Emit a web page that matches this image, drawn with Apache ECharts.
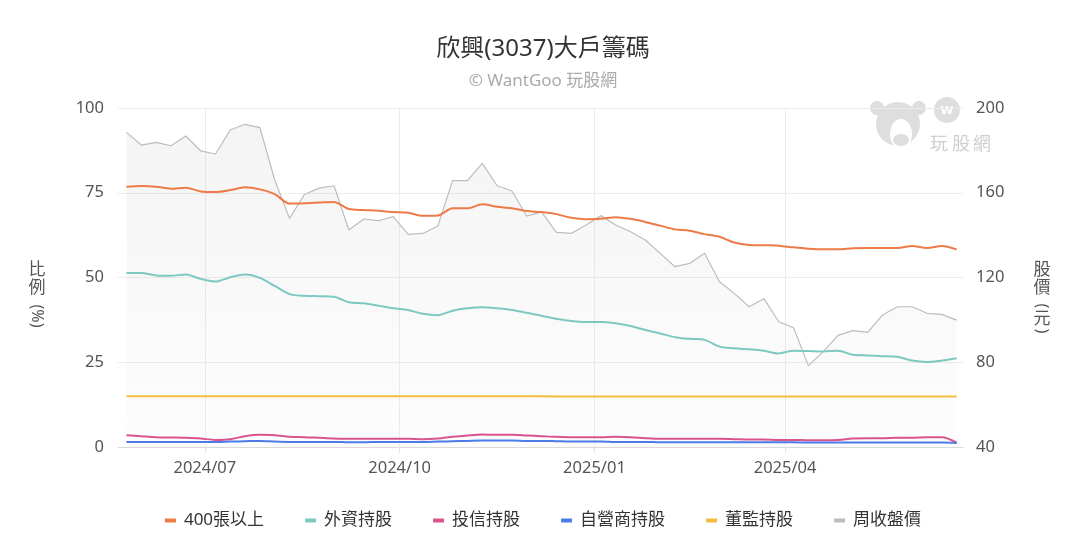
<!DOCTYPE html>
<html><head><meta charset="utf-8">
<script src="https://cdn.jsdelivr.net/npm/echarts@6/dist/echarts.min.js"></script>
<style>html,body{margin:0;padding:0;background:#fff}#c{width:1086px;height:540px}</style>
</head><body><div id="c"></div>
<script>
const dates = [
 '2024-05-25','2024-06-01','2024-06-08','2024-06-15','2024-06-22','2024-06-29','2024-07-06','2024-07-13','2024-07-20','2024-07-27',
 '2024-08-03','2024-08-10','2024-08-17','2024-08-24','2024-08-31','2024-09-07','2024-09-14','2024-09-21','2024-09-28','2024-10-05',
 '2024-10-12','2024-10-19','2024-10-26','2024-11-02','2024-11-09','2024-11-16','2024-11-23','2024-11-30','2024-12-07','2024-12-14',
 '2024-12-21','2024-12-28','2025-01-04','2025-01-11','2025-01-18','2025-01-25','2025-02-01','2025-02-08','2025-02-15','2025-02-22',
 '2025-03-01','2025-03-08','2025-03-15','2025-03-22','2025-03-29','2025-04-05','2025-04-12','2025-04-19','2025-04-26','2025-05-03',
 '2025-05-10','2025-05-17','2025-05-24','2025-05-31','2025-06-07','2025-06-14','2025-06-21'
];
const xTicks = ['2024-07-01','2024-10-01','2025-01-01','2025-04-01'];
const xRange = ['2024-05-21','2025-06-24'];
const leftTicks = [0, 25, 50, 75, 100];
const rightTicks = [40, 80, 120, 160, 200];

const big400 = [76.8,77.0,76.8,76.2,76.5,75.4,75.2,75.8,76.6,76.0,74.6,71.8,71.9,72.1,72.3,70.2,69.9,69.7,69.3,
 69.1,68.2,68.3,70.4,70.4,71.6,70.9,70.4,69.6,69.3,68.7,67.6,67.2,67.3,67.8,67.3,66.4,65.3,64.2,
 63.8,62.8,62.0,60.3,59.6,59.5,59.4,58.9,58.5,58.3,58.3,58.6,58.7,58.7,58.7,59.3,58.7,59.3,58.3];
const foreign = [51.3,51.3,50.6,50.5,50.9,49.6,48.8,50.1,50.9,49.9,47.5,45.1,44.6,44.5,44.3,42.7,42.4,41.7,40.9,
 40.4,39.3,38.9,40.2,40.9,41.2,40.9,40.4,39.6,38.7,37.8,37.2,36.9,36.9,36.5,35.7,34.5,33.5,32.4,
 31.9,31.6,29.6,29.1,28.8,28.4,27.6,28.4,28.3,28.2,28.4,27.2,27.0,26.8,26.6,25.5,25.1,25.5,26.2];
const trust = [3.5,3.2,2.9,2.8,2.7,2.5,2.1,2.3,3.2,3.6,3.5,3.0,2.9,2.7,2.5,2.4,2.4,2.4,2.4,
 2.4,2.3,2.5,3.0,3.4,3.7,3.6,3.6,3.4,3.2,3.0,2.9,2.9,2.9,3.0,2.9,2.6,2.4,2.4,
 2.4,2.4,2.4,2.3,2.2,2.2,2.1,2.1,2.0,2.0,2.1,2.5,2.6,2.6,2.7,2.7,2.9,2.9,1.3];
const dealer = [1.5,1.5,1.5,1.5,1.5,1.5,1.5,1.6,1.7,1.8,1.6,1.5,1.5,1.5,1.5,1.4,1.4,1.5,1.5,
 1.5,1.5,1.6,1.7,1.8,1.9,1.9,1.9,1.8,1.8,1.7,1.6,1.6,1.6,1.5,1.5,1.5,1.4,1.4,
 1.4,1.4,1.4,1.4,1.4,1.4,1.4,1.4,1.3,1.3,1.3,1.3,1.3,1.3,1.3,1.3,1.3,1.3,1.2];
const director = [15.0,15.0,15.0,15.0,15.0,15.0,15.0,15.0,15.0,15.0,15.0,15.0,15.0,15.0,15.0,15.0,15.0,15.0,15.0,
 15.0,15.0,15.0,15.0,15.0,15.0,15.0,15.0,15.0,15.0,14.9,14.9,14.9,14.9,14.9,14.9,14.9,14.9,14.9,
 14.9,14.9,14.9,14.9,14.9,14.9,14.9,14.9,14.9,14.9,14.9,14.9,14.9,14.9,14.9,14.9,14.9,14.9,14.9];
const price = [188.5,182.5,183.8,182.2,186.8,179.8,178.3,189.6,192.3,190.7,166.0,147.9,159.2,162.2,163.3,142.4,147.6,146.8,148.7,
 140.4,140.8,144.3,165.7,165.7,173.9,163.3,160.8,149.0,151.0,141.3,140.8,144.8,149.2,144.8,141.6,137.7,131.4,125.1,
 126.7,131.4,118.0,112.5,106.2,110.0,99.1,96.3,78.4,85.0,92.7,94.9,94.1,102.3,106.2,106.2,103.1,102.6,99.9];

const names = ['400張以上','外資持股','投信持股','自營商持股','董監持股','周收盤價'];
const colors = ['#ee7b47','#7ec8c2','#d9548c','#4b7cea','#f4bd3f','#bdbdbd'];
const FONT = "'Noto Sans', 'Noto Sans CJK TC', sans-serif";

const toTs = s => { const p = s.split('-').map(Number); return new Date(p[0], p[1] - 1, p[2]).getTime(); };
const pairs = arr => dates.map((d, i) => [toTs(d), arr[i]]);
function lineSeries(idx, arr, yIdx, extra) {
  return Object.assign({
    name: names[idx], type: 'line', yAxisIndex: yIdx, data: pairs(arr),
    showSymbol: false, symbol: 'none', smooth: 0.3,
    lineStyle: { color: colors[idx], width: 2 }, itemStyle: { color: colors[idx] },
    emphasis: { disabled: true }
  }, extra || {});
}

const chart = echarts.init(document.getElementById('c'), null, { renderer: 'canvas' });
const fmtDate = v => { const d = new Date(v); return d.getFullYear() + '/' + String(d.getMonth() + 1).padStart(2, '0'); };
const tickTs = xTicks.map(toTs);

chart.setOption({
  animation: false,
  textStyle: { fontFamily: FONT },
  color: colors,
  title: {
    text: '欣興(3037)大戶籌碼', subtext: '© WantGoo 玩股網', left: 'center', top: 32, itemGap: 12,
    textStyle: { fontSize: 24, color: '#333', fontWeight: 'normal', fontFamily: FONT },
    subtextStyle: { fontSize: 17, color: '#aaa', fontFamily: FONT }
  },
  legend: {
    data: names, top: 507, left: 'center', icon: 'rect', itemWidth: 11, itemHeight: 4, itemGap: 41,
    itemStyle: { borderWidth: 0 },
    textStyle: { fontSize: 17, color: '#333', fontFamily: FONT, padding: [0, 0, 0, 3] }
  },
  grid: { left: 118, right: 123, top: 108, bottom: 93 },
  xAxis: {
    type: 'value', min: toTs(xRange[0]), max: toTs(xRange[1]), scale: true,
    axisLine: { lineStyle: { color: '#d9d9d9' } },
    axisTick: { show: true, length: 6, lineStyle: { color: '#e3e3e3' }, customValues: tickTs },
    axisLabel: { customValues: tickTs, formatter: fmtDate, fontSize: 16.5, color: '#555', margin: 13, fontFamily: FONT },
    splitLine: { show: true, lineStyle: { color: '#ececec' } }
  },
  yAxis: [
    { type: 'value', min: leftTicks[0], max: leftTicks[leftTicks.length - 1], interval: 25,
      axisLine: { show: false }, axisTick: { show: false },
      axisLabel: { fontSize: 16.5, color: '#555', margin: 14, fontFamily: FONT },
      splitLine: { lineStyle: { color: '#ececec' } } },
    { type: 'value', min: rightTicks[0], max: rightTicks[rightTicks.length - 1], interval: 40,
      axisLine: { show: false }, axisTick: { show: false },
      axisLabel: { fontSize: 16.5, color: '#555', margin: 13, fontFamily: FONT },
      splitLine: { show: false } }
  ],
  series: [
    lineSeries(5, price, 1, {
      smooth: false, z: 1,
      lineStyle: { color: colors[5], width: 1.2 },
      areaStyle: { color: new echarts.graphic.LinearGradient(0, 0, 0, 1, [
        { offset: 0, color: 'rgba(185,185,185,0.22)' }, { offset: 1, color: 'rgba(185,185,185,0.04)' }]) }
    }),
    lineSeries(0, big400, 0, { z: 3 }),
    lineSeries(1, foreign, 0, { z: 3 }),
    lineSeries(2, trust, 0, { z: 3 }),
    lineSeries(3, dealer, 0, { z: 3 }),
    lineSeries(4, director, 0, { z: 3, smooth: false })
  ],
  graphic: [
    { type: 'text', x: 37, y: 279, style: { text: '比\n例', fontSize: 17, lineHeight: 18, fill: '#555', align: 'center', verticalAlign: 'middle', fontFamily: FONT } },
    { type: 'text', x: 37, y: 316, rotation: -Math.PI / 2, style: { text: '(%)', fontSize: 16, fill: '#555', align: 'center', verticalAlign: 'middle', fontFamily: FONT } },
    { type: 'text', x: 1042, y: 279, style: { text: '股\n價', fontSize: 17, lineHeight: 18, fill: '#555', align: 'center', verticalAlign: 'middle', fontFamily: FONT } },
    { type: 'text', x: 1042, y: 306, rotation: -Math.PI / 2, style: { text: '(', fontSize: 16, fill: '#555', align: 'center', verticalAlign: 'middle', fontFamily: FONT } },
    { type: 'text', x: 1042, y: 319, style: { text: '元', fontSize: 17, fill: '#555', align: 'center', verticalAlign: 'middle', fontFamily: FONT } },
    { type: 'text', x: 1042, y: 331, rotation: -Math.PI / 2, style: { text: ')', fontSize: 16, fill: '#555', align: 'center', verticalAlign: 'middle', fontFamily: FONT } },
    { type: 'group', z: 0, children: [
      { type: 'circle', shape: { cx: 898, cy: 124, r: 22 }, style: { fill: '#dedede' } },
      { type: 'circle', shape: { cx: 877, cy: 108, r: 7 }, style: { fill: '#dedede' } },
      { type: 'circle', shape: { cx: 919, cy: 108, r: 7 }, style: { fill: '#dedede' } },
      { type: 'ellipse', shape: { cx: 901, cy: 134, rx: 11, ry: 15 }, style: { fill: '#fff' } },
      { type: 'ellipse', shape: { cx: 901, cy: 140, rx: 8, ry: 6 }, style: { fill: '#dedede' } },
      { type: 'circle', shape: { cx: 947, cy: 110, r: 13 }, style: { fill: '#dedede' } },
      { type: 'text', x: 947, y: 110, style: { text: 'w', fontSize: 15, fontWeight: 'bold', fill: '#fff', align: 'center', verticalAlign: 'middle', fontFamily: FONT } },
      { type: 'text', x: 939, y: 145, style: { text: '玩', fontSize: 18, fill: '#cfcfcf', align: 'center', verticalAlign: 'middle', fontFamily: FONT } },
      { type: 'text', x: 961, y: 145, style: { text: '股', fontSize: 18, fill: '#cfcfcf', align: 'center', verticalAlign: 'middle', fontFamily: FONT } },
      { type: 'text', x: 982, y: 145, style: { text: '網', fontSize: 18, fill: '#cfcfcf', align: 'center', verticalAlign: 'middle', fontFamily: FONT } }
    ] }
  ]
});
</script></body></html>
